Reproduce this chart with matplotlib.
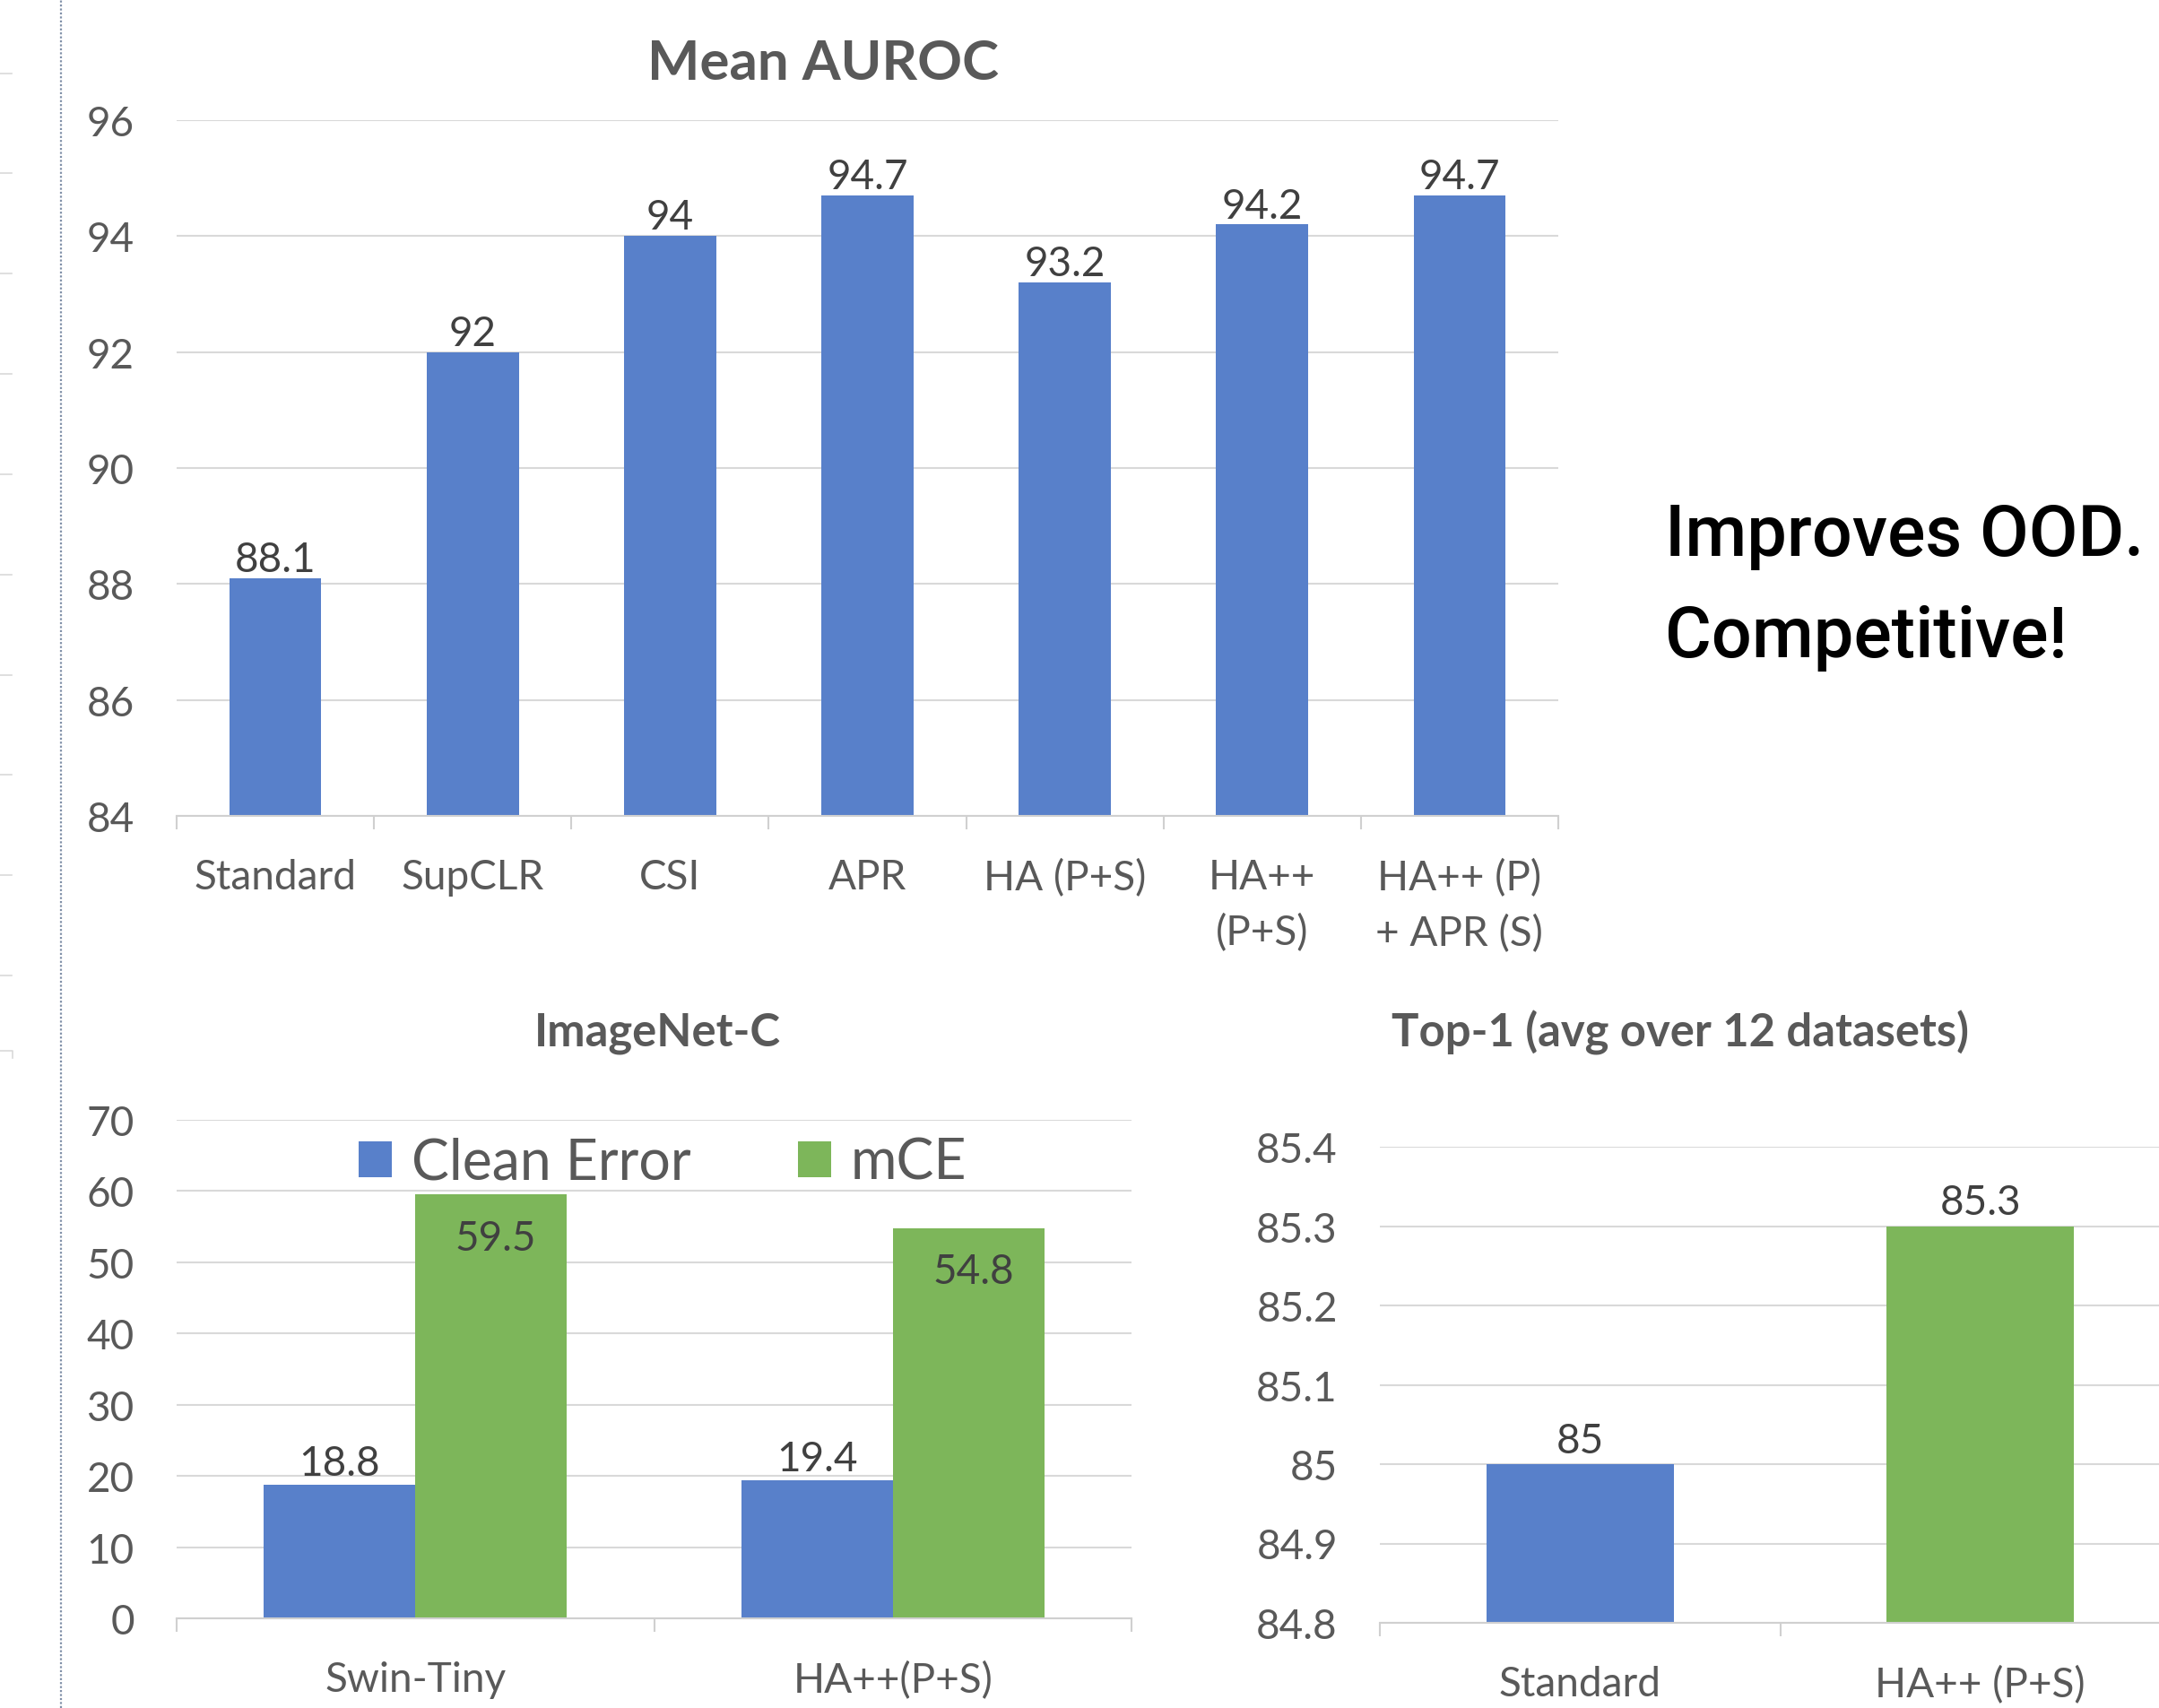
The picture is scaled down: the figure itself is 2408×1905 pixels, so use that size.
import numpy as np
import matplotlib
matplotlib.use('Agg')
import matplotlib.pyplot as plt
from matplotlib.lines import Line2D
from matplotlib.ticker import FixedLocator, FuncFormatter

plt.rcParams['font.family'] = ['Lato', 'DejaVu Sans']

# Mean AUROC (top chart)
auroc_methods = ['Standard', 'SupCLR', 'CSI', 'APR', 'HA (P+S)', 'HA++\n(P+S)', 'HA++ (P)\n+ APR (S)']
auroc_values = [88.1, 92, 94, 94.7, 93.2, 94.2, 94.7]
auroc_ticks = [84, 86, 88, 90, 92, 94, 96]

# ImageNet-C (bottom left)
inc_models = ['Swin-Tiny', 'HA++(P+S)']
clean_error = [18.8, 19.4]
mce = [59.5, 54.8]
inc_ticks = [0, 10, 20, 30, 40, 50, 60, 70]

# Top-1 avg over 12 datasets (bottom right)
top1_methods = ['Standard', 'HA++ (P+S)']
top1_values = [85.0, 85.3]
top1_ticks = [84.8, 84.9, 85.0, 85.1, 85.2, 85.3, 85.4]

BLUE = '#5880ca'
GREEN = '#7db65a'
GRID = '#d9d9d9'
TICK = '#595959'
LABEL = '#404040'
FS = 33

W, H = 2408, 1906
fig = plt.figure(figsize=(W / 100, H / 100), dpi=100)


def px_axes(x0, y_top, x1, y_bot):
    # axes from pixel box (y measured from the top)
    return fig.add_axes([x0 / W, 1 - y_bot / H, (x1 - x0) / W, (y_bot - y_top) / H])


def style_axes(ax, ticks, labels):
    n = len(labels)
    ax.set_ylim(ticks[0], ticks[-1])
    ax.set_yticks(ticks)
    ax.yaxis.set_major_formatter(FuncFormatter(lambda v, p: f'{v:g}'))
    ax.set_xlim(-0.5, n - 0.5)
    ax.set_xticks(range(n))
    ax.set_xticklabels(labels, linespacing=1.55)
    ax.xaxis.set_minor_locator(FixedLocator(np.arange(n + 1) - 0.5))
    ax.grid(axis='y', color=GRID, lw=1.5)
    ax.set_axisbelow(True)
    for s in ['top', 'right', 'left']:
        ax.spines[s].set_visible(False)
    ax.spines['bottom'].set_color('#d0d0d0')
    ax.spines['bottom'].set_linewidth(1.5)
    ax.tick_params(axis='y', length=0, pad=34, labelsize=FS, labelcolor=TICK)
    ax.tick_params(axis='x', which='major', length=0, pad=34, labelsize=FS, labelcolor=TICK)
    ax.tick_params(axis='x', which='minor', length=11, width=1.5, color='#d0d0d0')


# top chart
ax1 = px_axes(197, 135, 1738, 911)
x = np.arange(len(auroc_values))
ax1.bar(x, auroc_values, width=0.467, color=BLUE, bottom=0)
style_axes(ax1, auroc_ticks, auroc_methods)
for i, v in enumerate(auroc_values):
    ax1.annotate(f'{v:g}', (i, v), xytext=(0, 15), textcoords='offset points',
                 ha='center', va='center', fontsize=FS, color=LABEL)
fig.text(918 / W, 1 - 71 / H, 'Mean AUROC', ha='center', va='center',
         fontsize=44.5, fontweight='bold', color=TICK)

# bottom left chart
ax2 = px_axes(197, 1250, 1262, 1806)
x = np.arange(len(inc_models))
bw = 0.317
ax2.bar(x - bw / 2, clean_error, width=bw, color=BLUE, label='Clean Error')
ax2.bar(x + bw / 2, mce, width=bw, color=GREEN, label='mCE')
style_axes(ax2, inc_ticks, inc_models)
for i, v in enumerate(clean_error):
    ax2.annotate(f'{v:g}', (i - bw / 2, v), xytext=(0, 17), textcoords='offset points',
                 ha='center', va='center', fontsize=FS, color=LABEL)
for i, v in enumerate(mce):
    ax2.annotate(f'{v:g}', (i + bw / 2, v), xytext=(4, -35), textcoords='offset points',
                 ha='center', va='center', fontsize=FS, color=LABEL)
ax2.legend(loc='center', bbox_to_anchor=(0.509, 0.914), ncol=2, frameon=False,
           fontsize=45, labelcolor=TICK, handlelength=0.6, handleheight=0.6,
           handletextpad=0.35, columnspacing=1.9, borderaxespad=0)
fig.text(733 / W, 1 - 1152 / H, 'ImageNet-C', ha='center', va='center',
         fontsize=36.5, fontweight='bold', color=TICK)

# bottom right chart
ax3 = px_axes(1539, 1280, 2432, 1811)
x = np.arange(len(top1_methods))
ax3.bar(x, np.array(top1_values) - top1_ticks[0], bottom=top1_ticks[0], width=0.467,
        color=[BLUE, GREEN])
style_axes(ax3, top1_ticks, top1_methods)
for i, v in enumerate(top1_values):
    ax3.annotate(f'{v:g}', (i, v), xytext=(0, 19), textcoords='offset points',
                 ha='center', va='center', fontsize=FS, color=LABEL)
fig.text(1874 / W, 1 - 1152 / H, 'Top-1 (avg over 12 datasets)', ha='center', va='center',
         fontsize=36.5, fontweight='bold', color=TICK)

# side note
side = dict(fontsize=57, fontweight='medium', color='black', ha='left', va='baseline',
            family=['Roboto', 'DejaVu Sans'])
fig.text(1857 / W, 1 - 620 / H, 'Improves OOD.', **side)
fig.text(1857 / W, 1 - 733 / H, 'Competitive!', **side)

# slide remnants on the left edge
fig.add_artist(Line2D([68 / W, 68 / W], [0, 1], transform=fig.transFigure,
                      color='#8090a8', lw=1.6, ls=(0, (1, 1))))
for yy in [83, 194, 306, 418, 530, 642, 754, 865, 977, 1089]:
    fig.add_artist(Line2D([0, 13 / W], [1 - yy / H] * 2, transform=fig.transFigure,
                          color=GRID, lw=1.2))
fig.add_artist(Line2D([0, 14 / W, 14 / W], [1 - 1173 / H, 1 - 1173 / H, 1 - 1181 / H],
                      transform=fig.transFigure, color=GRID, lw=1.2))

fig.savefig('out.png', dpi=100)
